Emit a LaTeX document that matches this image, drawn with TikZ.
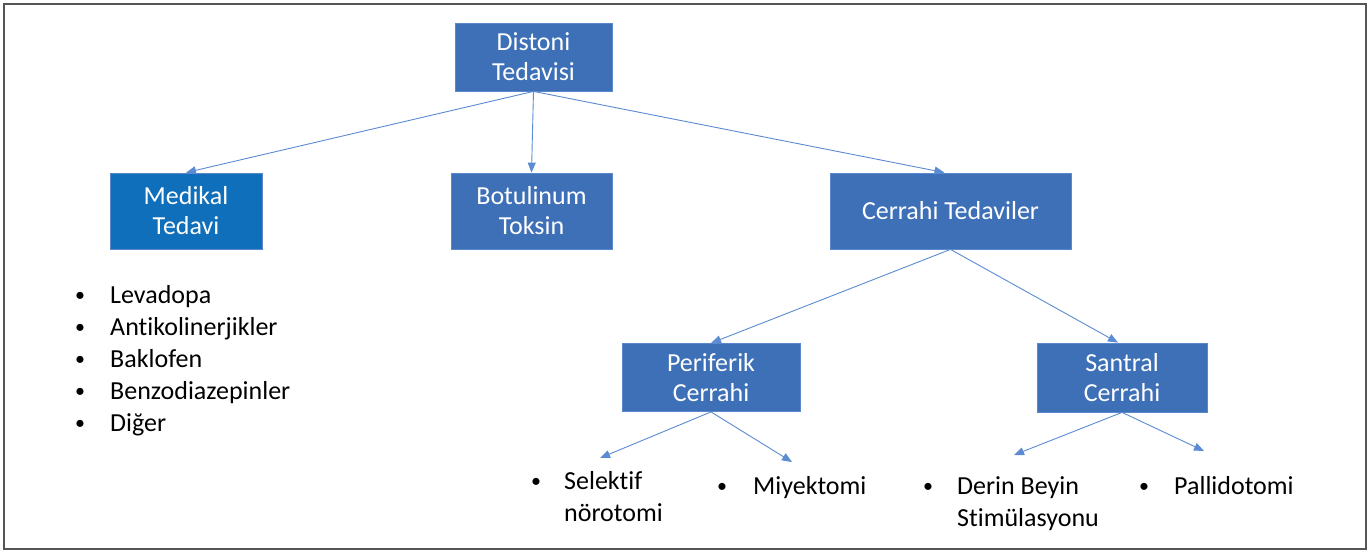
\documentclass[tikz,border=0pt]{standalone}
\usepackage{fontspec}
\setmainfont{Carlito}[Ligatures=NoCommon]
\usetikzlibrary{arrows.meta}
\definecolor{boxblue}{HTML}{3D70B7}
\definecolor{medblue}{HTML}{0F6FBB}
\definecolor{boxedge}{HTML}{5A88CC}
\definecolor{arrblue}{HTML}{5B8BD2}
\definecolor{framegray}{HTML}{555555}
\newcommand\bulitem[2]{\makebox[#1][l]{\hspace{1.5pt}\raisebox{1.5pt}{\fontsize{20}{20}\selectfont •}}#2}
\begin{document}
\begin{tikzpicture}[x=1pt,y=-1pt,
  tbox/.style={rectangle, fill=boxblue, draw=boxedge, line width=0.8pt, text=white,
    align=center, inner sep=0pt, font=\fontsize{26}{30}\selectfont},
  conn/.style={draw=arrblue, line width=0.9pt, -{Triangle[length=10pt,width=8pt]}},
  btxt/.style={anchor=base west, inner sep=0pt, font=\fontsize{26}{32}\selectfont, text=black}]
\useasboundingbox (0,0) rectangle (1368,551);
\fill[white] (0,0) rectangle (1368,551);
\draw[framegray, line width=1.5pt] (4,4) rectangle (1366,549);

\node[tbox, minimum width=157pt, minimum height=68pt] (dist) at (533.5,57) {Distoni\\Tedavisi};
\node[tbox, fill=medblue, minimum width=152pt, minimum height=76pt] (med) at (186,211) {Medikal\\Tedavi};
\node[tbox, minimum width=161pt, minimum height=76pt] (bot) at (531.5,211) {Botulinum\\Toksin};
\node[tbox, minimum width=241pt, minimum height=76pt] (cer) at (950.5,211) {Cerrahi Tedaviler};
\node[tbox, minimum width=178pt, minimum height=68pt] (per) at (711,377.5) {Periferik\\Cerrahi};
\node[tbox, minimum width=170pt, minimum height=69pt] (san) at (1122,377.5) {Santral\\Cerrahi};

\draw[conn] (dist.south) -- (med.north);
\draw[conn] (dist.south) -- (bot.north);
\draw[conn] (dist.south) -- ([xshift=-6pt]cer.north);
\draw[conn] (cer.south) -- (per.north);
\draw[conn] (cer.south) -- ([xshift=-4pt]san.north);

\coordinate (pa) at (600,458);
\coordinate (pb) at (792,462);
\coordinate (sa) at (1014,455);
\coordinate (sb) at (1204,451);
\draw[conn] (per.south) -- (pa);
\draw[conn] (per.south) -- (pb);
\draw[conn] (san.south) -- (sa);
\draw[conn] (san.south) -- (sb);

\node[btxt] (l1) at (73.5,303) {\bulitem{36.5pt}{Levadopa}};
\node[btxt] (l2) at (73.5,335) {\bulitem{36.5pt}{Antikolinerjikler}};
\node[btxt] (l3) at (73.5,367) {\bulitem{36.5pt}{Baklofen}};
\node[btxt] (l4) at (73.5,399) {\bulitem{36.5pt}{Benzodiazepinler}};
\node[btxt] (l5) at (73.5,431) {\bulitem{36.5pt}{Diğer}};

\node[btxt] (p1) at (529.5,489) {\bulitem{34.5pt}{Selektif}};
\node[btxt] (p1b) at (564,521) {nörotomi};
\node[btxt] (p2) at (715.5,494) {\bulitem{37.5pt}{Miyektomi}};
\node[btxt] (s1) at (921.5,494) {\bulitem{35.5pt}{Derin Beyin}};
\node[btxt] (s1b) at (957,526) {Stimülasyonu};
\node[btxt] (s2) at (1137.5,494) {\bulitem{36.5pt}{Pallidotomi}};
\end{tikzpicture}
\end{document}
